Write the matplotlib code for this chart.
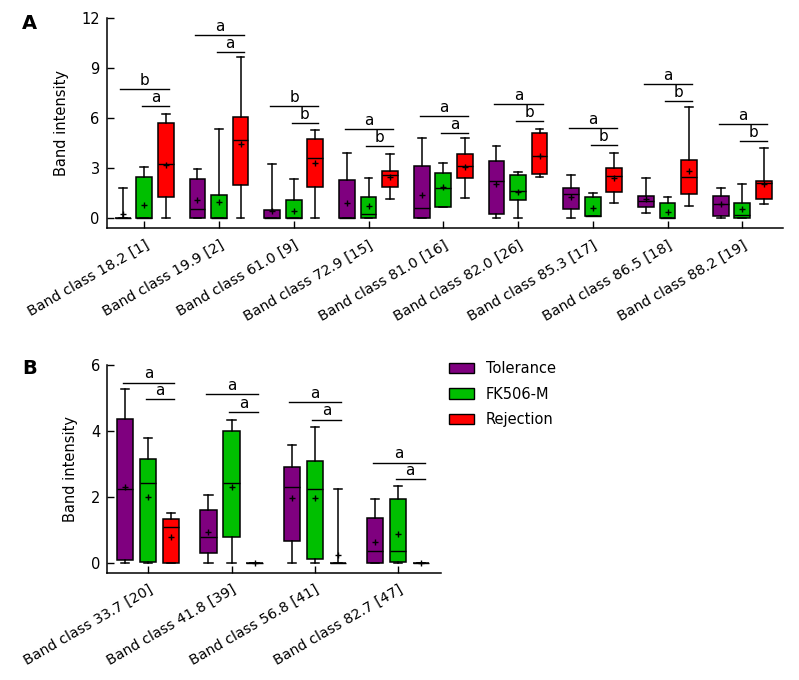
import numpy as np
import matplotlib
matplotlib.use("Agg")
import matplotlib.pyplot as plt
from matplotlib.patches import Patch

# ---------------- data ----------------
# each entry: [whisker_low, q1, median, q3, whisker_high, mean]
A_categories = ["Band class 18.2 [1]", "Band class 19.9 [2]", "Band class 61.0 [9]",
                "Band class 72.9 [15]", "Band class 81.0 [16]", "Band class 82.0 [26]",
                "Band class 85.3 [17]", "Band class 86.5 [18]", "Band class 88.2 [19]"]
A_tolerance = [[0, 0, 0, 0, 1.84, 0.24],
               [0, 0, 0.55, 2.34, 2.94, 1.10],
               [0, 0, 0, 0.48, 3.24, 0.42],
               [0, 0, 0, 2.28, 3.90, 0.94],
               [0, 0, 0.60, 3.12, 4.80, 1.42],
               [0, 0.24, 2.24, 3.42, 4.34, 2.04],
               [0, 0.58, 1.46, 1.80, 2.58, 1.28],
               [0.32, 0.66, 1.02, 1.32, 2.44, 1.14],
               [0, 0.16, 0.86, 1.32, 1.84, 0.86]]
A_fk506 = [[0, 0, 0, 2.50, 3.08, 0.80],
           [0, 0, 0, 1.38, 5.34, 1.00],
           [0, 0, 0, 1.08, 2.34, 0.46],
           [0, 0, 0.24, 1.26, 2.40, 0.74],
           [0.66, 0.66, 1.80, 2.70, 3.30, 1.86],
           [0, 1.08, 1.62, 2.58, 2.80, 1.58],
           [0.12, 0.16, 0.16, 1.30, 1.54, 0.60],
           [0, 0, 0, 0.90, 1.30, 0.38],
           [0, 0, 0.18, 0.90, 2.04, 0.58]]
A_rejection = [[0, 1.30, 3.24, 5.70, 6.24, 3.20],
               [0, 2.00, 4.68, 6.10, 9.66, 4.46],
               [0, 1.86, 3.60, 4.74, 5.28, 3.30],
               [1.14, 1.86, 2.58, 2.82, 3.88, 2.46],
               [1.20, 2.40, 3.12, 3.84, 4.80, 3.10],
               [2.46, 2.64, 3.72, 5.10, 5.34, 3.76],
               [0.92, 1.56, 2.52, 3.00, 3.94, 2.40],
               [0.72, 1.44, 2.48, 3.52, 6.66, 2.84],
               [0.84, 1.18, 2.12, 2.22, 4.20, 2.08]]
A_sig_upper_y = [7.74, 11.0, 6.72, 5.34, 6.12, 6.84, 5.40, 8.04, 5.64]
A_sig_upper_txt = ["b", "a", "b", "a", "a", "a", "a", "a", "a"]
A_sig_lower_y = [6.72, 9.96, 5.70, 4.34, 5.10, 5.82, 4.38, 7.04, 4.62]
A_sig_lower_txt = ["a", "a", "b", "b", "a", "b", "b", "b", "b"]
A_yticks = [0, 3, 6, 9, 12]

B_categories = ["Band class 33.7 [20]", "Band class 41.8 [39]",
                "Band class 56.8 [41]", "Band class 82.7 [47]"]
B_tolerance = [[0, 0.09, 2.26, 4.375, 5.26, 2.31],
               [0, 0.33, 0.81, 1.63, 2.06, 0.95],
               [0, 0.67, 2.31, 2.91, 3.57, 1.97],
               [0, 0, 0.39, 1.36, 1.94, 0.64]]
B_fk506 = [[0, 0.03, 2.42, 3.15, 3.78, 2.00],
           [0, 0.79, 2.42, 3.99, 4.35, 2.31],
           [0, 0.12, 2.24, 3.11, 4.14, 1.97],
           [0, 0.03, 0.37, 1.94, 2.33, 0.90]]
B_rejection = [[0, 0, 1.11, 1.33, 1.54, 0.80],
               [0, 0, 0, 0, 0, 0],
               [0, 0, 0, 0, 2.26, 0.27],
               [0, 0, 0, 0, 0, 0]]
B_sig_upper_y = [5.47, 5.11, 4.87, 3.05]
B_sig_upper_txt = ["a", "a", "a", "a"]
B_sig_lower_y = [4.96, 4.57, 4.35, 2.54]
B_sig_lower_txt = ["a", "a", "a", "a"]
B_yticks = [0, 2, 4, 6]

series_names = ["Tolerance", "FK506-M", "Rejection"]
colors = ["#7F007F", "#00BF00", "#FF0000"]

# ---------------- drawing ----------------
plt.rcParams['font.family'] = ['DejaVu Sans']
fig = plt.figure(figsize=(7.99, 6.8), dpi=100)

LW = 1.1


def draw_panel(ax, cats, series, sig_up_y, sig_up_t, sig_lo_y, sig_lo_t,
               ylim, yticks, xlim, off, width):
    n = len(cats)
    x = np.arange(n)
    for k, (data, col) in enumerate(zip(series, colors)):
        stats = [dict(whislo=d[0], q1=d[1], med=d[2], q3=d[3], whishi=d[4],
                      mean=d[5], fliers=[]) for d in data]
        ax.bxp(stats, positions=x + (k - 1) * off, widths=width,
               patch_artist=True, showmeans=True, showfliers=False,
               manage_ticks=False, capwidths=width * 0.5,
               boxprops=dict(facecolor=col, edgecolor='black', linewidth=LW),
               medianprops=dict(color='black', linewidth=1.0),
               whiskerprops=dict(color='black', linewidth=LW),
               capprops=dict(color='black', linewidth=LW),
               meanprops=dict(marker='+', markeredgecolor='black',
                              markersize=5, markeredgewidth=1.0))
    for i in range(n):
        x0u, x0l, x1 = i - off - 0.03, i - 0.03, i + off + 0.04
        ax.plot([x0u, x1], [sig_up_y[i], sig_up_y[i]], color='black', lw=1.0)
        ax.plot([x0l, x1], [sig_lo_y[i], sig_lo_y[i]], color='black', lw=1.0)
        ax.annotate(sig_up_t[i], ((x0u + x1) / 2, sig_up_y[i]), xytext=(0, 1),
                    textcoords='offset points', ha='center', va='bottom', fontsize=11)
        ax.annotate(sig_lo_t[i], ((x0l + x1) / 2, sig_lo_y[i]), xytext=(0, 1),
                    textcoords='offset points', ha='center', va='bottom', fontsize=11)
    ax.set_xlim(*xlim)
    ax.set_ylim(*ylim)
    ax.set_yticks(yticks)
    ax.set_xticks(x)
    ax.set_xticklabels(cats, rotation=30, ha='right', va='top',
                       rotation_mode='anchor', fontsize=10.3)
    ax.tick_params(axis='both', direction='in', length=5, width=1.0,
                   labelsize=10.5)
    ax.tick_params(axis='x', pad=7, labelsize=10.3)
    ax.tick_params(axis='y', pad=5)
    for s in ['top', 'right']:
        ax.spines[s].set_visible(False)
    for s in ['left', 'bottom']:
        ax.spines[s].set_linewidth(1.1)
    ax.set_ylabel("Band intensity", fontsize=10.5, labelpad=9)


axA = fig.add_axes([0.1335, 0.6643, 0.980 - 0.1335, 0.9731 - 0.6643])
draw_panel(axA, A_categories, [A_tolerance, A_fk506, A_rejection],
           A_sig_upper_y, A_sig_upper_txt, A_sig_lower_y, A_sig_lower_txt,
           (-0.6, 12), A_yticks, (-0.503, 8.545), 0.288, 0.21)

axB = fig.add_axes([0.1343, 0.1578, 0.5516 - 0.1343, 0.4632 - 0.1578])
draw_panel(axB, B_categories, [B_tolerance, B_fk506, B_rejection],
           B_sig_upper_y, B_sig_upper_txt, B_sig_lower_y, B_sig_lower_txt,
           (-0.28, 6), B_yticks, (-0.49, 3.51), 0.276, 0.196)

fig.text(22 / 799, 1 - 14 / 680, "A", fontsize=14, fontweight='bold', va='top', ha='left')
fig.text(22 / 799, 1 - 359 / 680, "B", fontsize=14, fontweight='bold', va='top', ha='left')

handles = [Patch(facecolor=c, edgecolor='black', linewidth=1.0) for c in colors]
fig.legend(handles, series_names, loc='upper left',
           bbox_to_anchor=(436 / 799, 1 - 348 / 680), frameon=False,
           fontsize=10.5, handlelength=1.7, handleheight=0.7,
           handletextpad=0.8, labelspacing=0.72)

fig.savefig("out.png", dpi=100)
